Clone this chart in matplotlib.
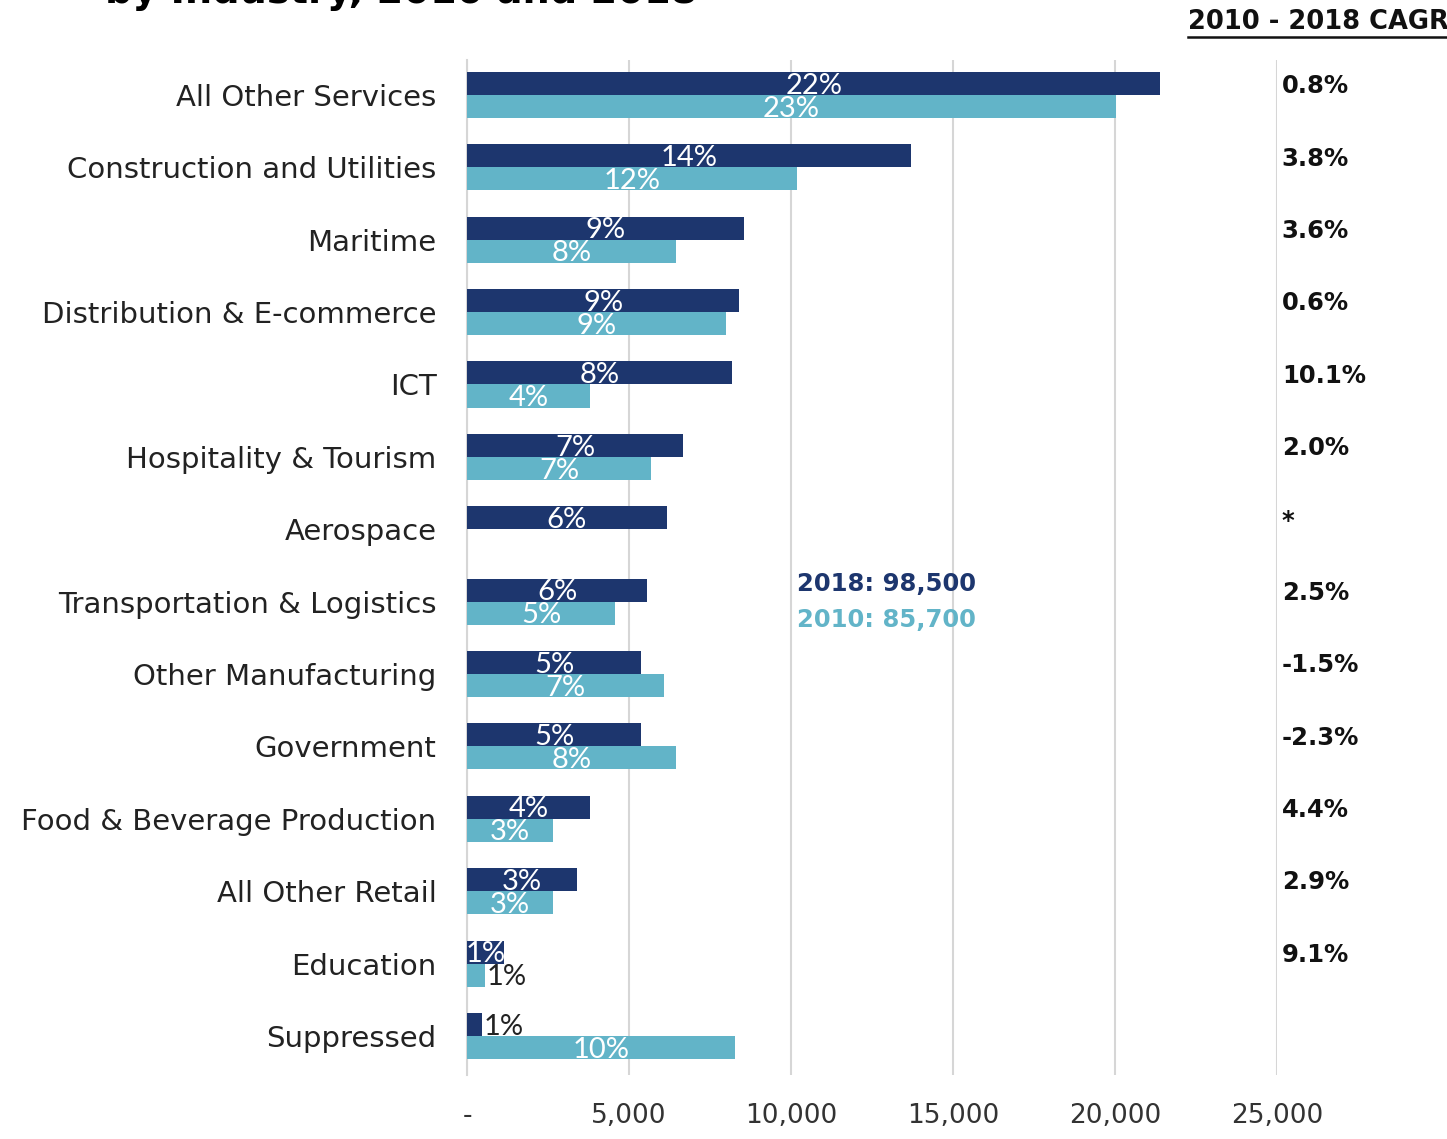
import numpy as np
import matplotlib
matplotlib.use("Agg")
from matplotlib import pyplot as plt

# employment by industry
industries = [
    "All Other Services",
    "Construction and Utilities",
    "Maritime",
    "Distribution & E-commerce",
    "ICT",
    "Hospitality & Tourism",
    "Aerospace",
    "Transportation & Logistics",
    "Other Manufacturing",
    "Government",
    "Food & Beverage Production",
    "All Other Retail",
    "Education",
    "Suppressed",
]
jobs_2018 = [21400, 13700, 8550, 8400, 8180, 6670, 6170, 5560, 5370, 5370, 3800, 3400, 1140, 460]
jobs_2010 = [20030, 10190, 6450, 7990, 3800, 5680, 0, 4570, 6080, 6450, 2650, 2650, 560, 8270]
share_2018 = ["22%", "14%", "9%", "9%", "8%", "7%", "6%", "6%", "5%", "5%", "4%", "3%", "1%", "1%"]
share_2010 = ["23%", "12%", "8%", "9%", "4%", "7%", "", "5%", "7%", "8%", "3%", "3%", "1%", "10%"]
cagr = ["0.8%", "3.8%", "3.6%", "0.6%", "10.1%", "2.0%", "*", "2.5%", "-1.5%", "-2.3%",
        "4.4%", "2.9%", "9.1%", ""]
xticks = [0, 5000, 10000, 15000, 20000, 25000]
xtick_labels = ["-", "5,000", "10,000", "15,000", "20,000", "25,000"]
total_2018 = "2018: 98,500"
total_2010 = "2010: 85,700"

dark = "#1d366e"
light = "#62b4c8"
grid = "#d6d6d6"
thin = ["Lato", "DejaVu Sans"]

fig = plt.figure(figsize=(14.47, 11.39), dpi=100)
ax = fig.add_axes([467 / 1447, 1 - 1075 / 1139, 810 / 1447, 1015 / 1139])

y = np.arange(len(industries))
h = 0.318
ax.barh(y - h / 2, jobs_2018, height=h, color=dark, zorder=3)
ax.barh(y + h / 2, jobs_2010, height=h, color=light, zorder=3)

# share labels on the bars
for yy, vals, labels in [(y - h / 2, jobs_2018, share_2018), (y + h / 2, jobs_2010, share_2010)]:
    for i, (v, lab) in enumerate(zip(vals, labels)):
        if not lab:
            continue
        if v < 700:
            ax.text(v + 60, yy[i] + 0.03, lab, ha="left", va="center", color="#222222",
                    fontsize=21, family=thin, zorder=4)
        else:
            ax.text(v / 2, yy[i] + 0.03, lab, ha="center", va="center", color="white",
                    fontsize=21, family=thin, zorder=4)

ax.set_xlim(0, 25000)
ax.set_ylim(len(industries) - 1 + 0.54, -0.483)
ax.set_xticks(xticks)
ax.set_xticklabels(xtick_labels, fontsize=19, color="#333333")
ax.set_yticks(y)
ax.set_yticklabels(industries, fontsize=21, color="#222222")
ax.tick_params(axis="both", length=0)
ax.tick_params(axis="x", pad=20)
ax.tick_params(axis="y", pad=22)
ax.grid(axis="x", color=grid, linewidth=1.5, zorder=0)
for side in ["top", "right", "bottom"]:
    ax.spines[side].set_visible(False)
ax.spines["left"].set_color(grid)
ax.spines["left"].set_linewidth(1.5)

# totals
ax.text(10200, 6.75, total_2018, color=dark, fontsize=17.5, fontweight="bold", va="center")
ax.text(10200, 7.26, total_2010, color=light, fontsize=17.5, fontweight="bold", va="center")

# CAGR column
for i, c in enumerate(cagr):
    if c:
        ax.text(25150, i - 0.12, c, ha="left", va="center", fontsize=17.5,
                fontweight="bold", color="#111111", clip_on=False)
fig.text(1188 / 1447, 1 - 22 / 1139, "2010 - 2018 CAGR", ha="left", va="center",
         fontsize=18.5, fontweight="bold", color="#111111")
fig.add_artist(plt.Line2D([1188 / 1447, 1.0], [1 - 37 / 1139, 1 - 37 / 1139],
                          color="#111111", linewidth=1.8))

# title, cut off at the top edge
fig.text(105 / 1447, 1 - 3 / 1139, "by Industry, 2010 and 2018", ha="left", va="baseline",
         fontsize=27.5, fontweight="bold", color="black")

fig.savefig("out.png", dpi=100)
